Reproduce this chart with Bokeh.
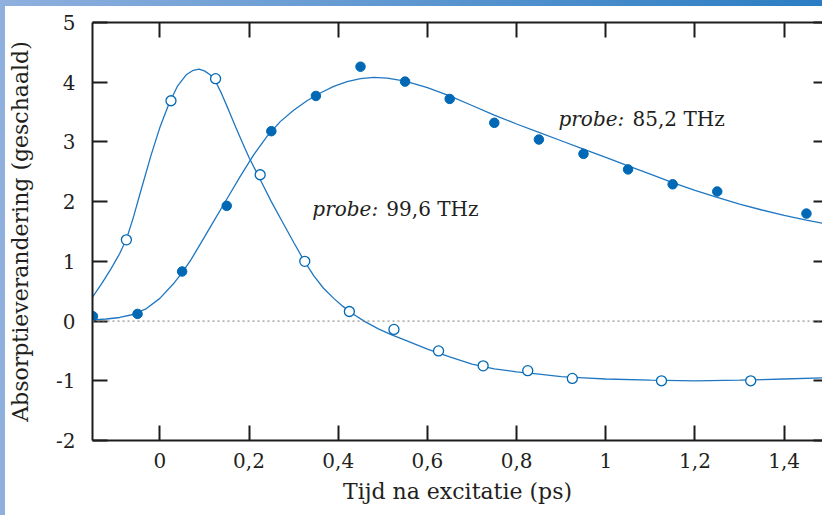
from bokeh.plotting import figure
from bokeh.models import LinearAxis, FixedTicker, Label, Span, Range1d
from bokeh.embed import file_html
from bokeh.resources import INLINE

# ---------------- data ----------------
# probe 85,2 THz (filled markers)
t_85 = [-0.15, -0.05, 0.05, 0.15, 0.25, 0.35, 0.45, 0.55, 0.65, 0.75, 0.85, 0.95, 1.05, 1.15, 1.25, 1.45]
y_85 = [0.08, 0.12, 0.83, 1.93, 3.18, 3.77, 4.26, 4.01, 3.72, 3.32, 3.04, 2.80, 2.54, 2.29, 2.17, 1.80]

# probe 99,6 THz (open markers)
t_996 = [-0.075, 0.025, 0.125, 0.225, 0.325, 0.425, 0.525, 0.625, 0.725, 0.825, 0.925, 1.125, 1.325]
y_996 = [1.36, 3.69, 4.06, 2.45, 1.00, 0.16, -0.14, -0.50, -0.75, -0.83, -0.96, -1.00, -1.00]

# fitted curve, 85,2 THz
fit_t_85 = [-0.151, -0.12, -0.09, -0.06, -0.03, 0.0, 0.03, 0.05, 0.07, 0.09, 0.12, 0.15, 0.18,
            0.21, 0.24, 0.27, 0.30, 0.33, 0.36, 0.39, 0.42, 0.45, 0.48, 0.51, 0.55, 0.60, 0.65,
            0.70, 0.75, 0.80, 0.85, 0.90, 0.95, 1.00, 1.05, 1.10, 1.15, 1.20, 1.25, 1.30, 1.35,
            1.40, 1.45, 1.486]
fit_85 = [0.02, 0.035, 0.06, 0.11, 0.21, 0.38, 0.62, 0.81, 1.03, 1.28, 1.66, 2.04, 2.42,
          2.78, 3.09, 3.34, 3.53, 3.69, 3.82, 3.93, 4.01, 4.06, 4.08, 4.07, 4.02, 3.91, 3.77,
          3.61, 3.45, 3.30, 3.16, 3.02, 2.88, 2.74, 2.60, 2.46, 2.32, 2.19, 2.07, 1.96, 1.86,
          1.77, 1.69, 1.64]

# fitted curve, 99,6 THz
fit_t_996 = [-0.151, -0.13, -0.11, -0.09, -0.075, -0.06, -0.04, -0.02, 0.0, 0.02, 0.04,
             0.06, 0.075, 0.088, 0.10, 0.112, 0.124, 0.139, 0.155, 0.17, 0.185, 0.20, 0.225,
             0.25, 0.275, 0.30, 0.322, 0.345, 0.367, 0.39, 0.41, 0.435, 0.46, 0.49, 0.52,
             0.55, 0.60, 0.65, 0.70, 0.75, 0.80, 0.85, 0.90, 0.95, 1.00, 1.10, 1.20, 1.30,
             1.40, 1.486]
fit_996 = [0.40, 0.63, 0.87, 1.13, 1.37, 1.72, 2.25, 2.77, 3.24, 3.63, 3.94,
           4.13, 4.20, 4.22, 4.19, 4.13, 4.03, 3.80, 3.52, 3.25, 2.99, 2.74, 2.37,
           2.00, 1.66, 1.32, 1.03, 0.76, 0.55, 0.38, 0.25, 0.11, -0.01, -0.13, -0.23,
           -0.32, -0.47, -0.60, -0.72, -0.80, -0.85, -0.89, -0.93, -0.95, -0.97, -0.99, -1.00, -0.99,
           -0.97, -0.95]

x_ticks = [0, 0.2, 0.4, 0.6, 0.8, 1, 1.2, 1.4]
x_tick_labels = ["0", "0,2", "0,4", "0,6", "0,8", "1", "1,2", "1,4"]
y_ticks = [-2, -1, 0, 1, 2, 3, 4, 5]
y_tick_labels = ["-2", "-1", "0", "1", "2", "3", "4", "5"]

x_title = "Tijd na excitatie (ps)"
y_title = "Absorptieverandering (geschaald)"
label_99 = ("probe:", "99,6 THz")
label_85 = ("probe:", "85,2 THz")

# ---------------- styling ----------------
FONT = "DejaVu Serif"
TXT = "#231f20"
AX = "#1c1c1c"
BLUE = "#0068b4"
LINE = "#1f77c2"

p = figure(width=822, height=515, output_backend="svg", toolbar_location=None,
           x_range=Range1d(-0.151, 1.486), y_range=Range1d(-2, 5),
           x_axis_location=None, y_axis_location=None,
           min_border_left=92, min_border_right=0, min_border_top=22, min_border_bottom=75)
p.xgrid.visible = False
p.ygrid.visible = False
p.outline_line_color = None
p.background_fill_color = "white"
p.border_fill_color = None
p.styles = {"background": "linear-gradient(to right, #8fb0dd, #2b7dc3) left top / 100% 6px no-repeat, "
                          "linear-gradient(#8fb0dd, #8fb0dd) left top / 5px 100% no-repeat, #ffffff"}


def style_axis(ax, tick_len, line=True):
    ax.axis_line_width = 2
    ax.axis_line_color = AX if line else None
    ax.major_tick_line_width = 2
    ax.major_tick_line_color = AX
    ax.major_tick_in = tick_len
    ax.major_tick_out = 0
    ax.minor_tick_line_color = None
    ax.major_label_text_font = FONT
    ax.major_label_text_font_size = "20px"
    ax.major_label_text_color = TXT
    ax.axis_label_text_font = FONT
    ax.axis_label_text_font_size = "22px"
    ax.axis_label_text_font_style = "normal"
    ax.axis_label_text_color = TXT


xb = LinearAxis(ticker=FixedTicker(ticks=x_ticks),
                major_label_overrides=dict(zip(x_ticks, x_tick_labels)),
                axis_label=x_title)
style_axis(xb, 15)
xb.major_label_standoff = 12
xb.axis_label_standoff = 8
p.add_layout(xb, "below")

yl = LinearAxis(ticker=FixedTicker(ticks=y_ticks),
                major_label_overrides=dict(zip(y_ticks, y_tick_labels)),
                axis_label=y_title)
style_axis(yl, 15)
yl.major_label_standoff = 17
yl.axis_label_standoff = 20
p.add_layout(yl, "left")

xt = LinearAxis(ticker=FixedTicker(ticks=x_ticks),
                major_label_overrides={t: "" for t in x_ticks})
style_axis(xt, 15)
xt.major_label_standoff = 0
p.add_layout(xt, "above")

yr = LinearAxis(ticker=FixedTicker(ticks=y_ticks),
                major_label_overrides={t: "" for t in y_ticks})
style_axis(yr, 9, line=False)
yr.major_label_standoff = 0
p.add_layout(yr, "right")

p.add_layout(Span(location=0, dimension="width", line_color="#7a7a7a",
                  line_width=1, line_dash="2 3"))

p.line(fit_t_85, fit_85, line_color=LINE, line_width=1.3)
p.line(fit_t_996, fit_996, line_color=LINE, line_width=1.3)
p.scatter(t_85, y_85, size=9.5, fill_color=BLUE, line_color=BLUE, line_width=1)
p.scatter(t_996, y_996, size=10, fill_color="white", line_color=BLUE, line_width=1.3)

for (x0, y0, parts) in [(0.342, 1.88, label_99), (0.894, 3.39, label_85)]:
    p.add_layout(Label(x=x0, y=y0, text=parts[0], text_font=FONT, text_font_style="italic",
                       text_font_size="20px", text_color=TXT, text_baseline="alphabetic"))
    p.add_layout(Label(x=x0, y=y0, x_offset=74, text=parts[1], text_font=FONT,
                       text_font_size="20px", text_color=TXT, text_baseline="alphabetic"))

open("out.html", "w").write(file_html(p, INLINE))
